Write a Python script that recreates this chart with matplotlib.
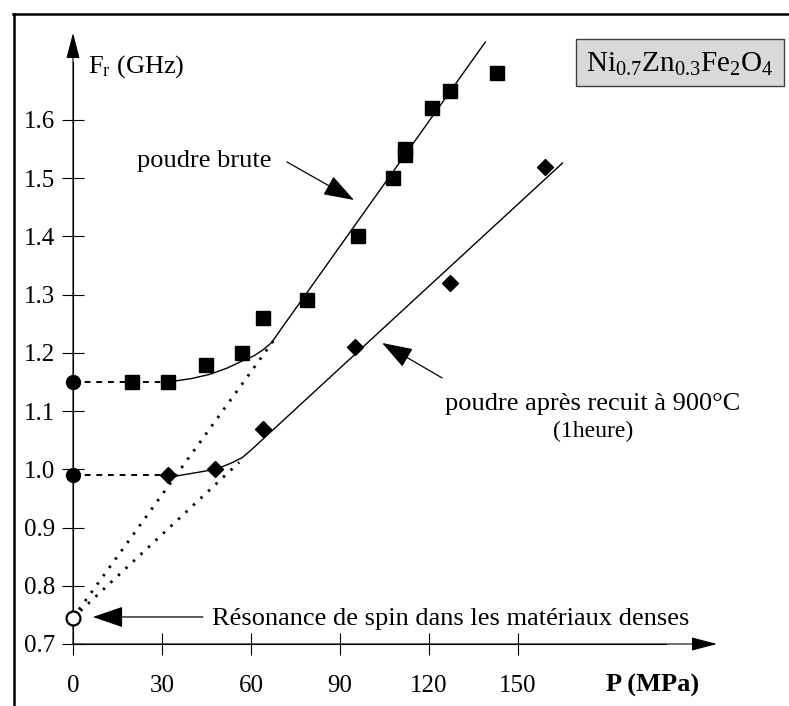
import matplotlib
matplotlib.use("Agg")
import matplotlib.pyplot as plt
from matplotlib.patches import Rectangle
from matplotlib.lines import Line2D

plt.rcParams['font.family'] = 'Liberation Serif'
plt.rcParams['mathtext.fontset'] = 'custom'
plt.rcParams['mathtext.rm'] = 'Liberation Serif'
plt.rcParams['mathtext.it'] = 'Liberation Serif:italic'
plt.rcParams['mathtext.bf'] = 'Liberation Serif:bold'

# ---------------------------
# data
# ---------------------------
# poudre brute (squares)
P_brute = [20, 32, 45, 57, 64, 79, 96, 108, 112, 112, 121, 127, 143]
F_brute = [1.15, 1.15, 1.18, 1.20, 1.26, 1.29, 1.40, 1.50, 1.54, 1.55, 1.62, 1.65, 1.68]

# poudre apres recuit a 900 C (diamonds)
P_recuit = [32, 48, 64, 95, 127, 159]
F_recuit = [0.99, 1.00, 1.07, 1.21, 1.32, 1.52]

# fitted curves (points picked along the drawn curves)
fit_brute_P = [32, 40, 46, 52, 57, 61, 64, 67, 70, 139]
fit_brute_F = [1.15, 1.156, 1.163, 1.174, 1.186, 1.195, 1.205, 1.218, 1.24, 1.734]
fit_recuit_P = [33, 40, 48, 53, 57, 60, 165]
fit_recuit_F = [0.987, 0.993, 1.0, 1.01, 1.02, 1.033, 1.526]

# extrapolation towards P = 0
F_zero = [1.15, 0.99]          # plateau values at P = 0
F_dense = 0.745                # spin resonance, dense material
plateau_end = 32
extra_end_P = [69, 56]
extra_end_F = [1.231, 1.012]

xticks = [0, 30, 60, 90, 120, 150]
yticks = [0.7, 0.8, 0.9, 1.0, 1.1, 1.2, 1.3, 1.4, 1.5, 1.6]

# ---------------------------
# figure
# ---------------------------
W, H = 789, 706
fig = plt.figure(figsize=(W / 100, H / 100), dpi=100)
ax = fig.add_axes([0, 0, 1, 1])
kx = (518 - 73) / 150.0
ky = (644 - 120) / 0.9
ax.set_xlim(-73 / kx, (W - 73) / kx)
ax.set_ylim(0.7 - (H - 644) / ky, 0.7 + 644 / ky)
ax.patch.set_alpha(0)

for s in ['top', 'right']:
    ax.spines[s].set_visible(False)
ax.spines['left'].set_position(('data', 0))
ax.spines['bottom'].set_position(('data', 0.7))
ax.spines['left'].set_bounds(0.7, 1.70)
ax.spines['bottom'].set_bounds(0, 200)
for s in ['left', 'bottom']:
    ax.spines[s].set_linewidth(0.8)

ax.set_xticks(xticks)
ax.set_xticklabels([str(v) for v in xticks])
ax.set_yticks(yticks)
ax.set_yticklabels([f'{v:.1f}' for v in yticks])
ax.tick_params(axis='both', direction='inout', length=16, width=0.8, labelsize=18)
ax.tick_params(axis='x', pad=14)
ax.tick_params(axis='y', pad=5)

# axis arrowheads (line drawn from the origin so there is no gap)
axis_arrow = dict(arrowstyle='-|>,head_length=1.6,head_width=0.42', mutation_scale=10,
                  color='k', lw=0.8, shrinkA=0, shrinkB=0)
ax.annotate('', xy=(0, 0.7 + 611 / ky), xytext=(0, 0.7), arrowprops=axis_arrow)
ax.annotate('', xy=((717 - 73) / kx, 0.7), xytext=(0, 0.7), arrowprops=axis_arrow)

# fitted curves
ax.plot(fit_brute_P, fit_brute_F, color='k', lw=1.0, zorder=3)
ax.plot(fit_recuit_P, fit_recuit_F, color='k', lw=1.0, zorder=3)

# dashed plateaus and dotted extrapolations
for f0 in F_zero:
    ax.plot([0, plateau_end], [f0, f0], color='k', lw=1.4, ls=(0, (3, 3)), zorder=3)
for pe, fe in zip(extra_end_P, extra_end_F):
    ax.plot([0, pe], [F_dense, fe], color='k', lw=2.0, ls=(0, (0.9, 2.8)), zorder=3)

# measured points
ax.plot(P_brute, F_brute, 's', color='k', ms=9.5, zorder=4)
ax.plot(P_recuit, F_recuit, 'D', color='k', ms=8, zorder=4)
ax.plot([0] * len(F_zero), F_zero, 'o', color='k', ms=10, zorder=5, clip_on=False)
ax.plot([0], [F_dense], 'o', mfc='white', mec='k', mew=1.6, ms=10, zorder=5, clip_on=False)

# labels
ax.text(5.06, 1.6808, r'F$_\mathrm{r}$ (GHz)', fontsize=19, ha='left', va='baseline')
ax.text(195.2, 0.6176, 'P (MPa)', fontsize=19, fontweight='bold', ha='center', va='baseline')

# annotations
note_arrow = dict(arrowstyle='-|>,head_length=1.6,head_width=0.55', mutation_scale=12,
                  color='k', lw=0.9, shrinkA=0, shrinkB=0)
ax.text(44.2, 1.5193, 'poudre brute', fontsize=19, ha='center', va='baseline')
ax.annotate('', xy=(94.7, 1.4626), xytext=(72.1, 1.528), arrowprops=note_arrow)

ax.text(175.3, 1.1019, 'poudre après recuit à 900°C', fontsize=19, ha='center', va='baseline')
ax.text(175.3, 1.0555, '(1heure)', fontsize=17, ha='center', va='baseline')
ax.annotate('', xy=(104.2, 1.217), xytext=(124.4, 1.157), arrowprops=note_arrow)

ax.text(46.9, 0.7326, 'Résonance de spin dans les matériaux denses', fontsize=19,
        ha='left', va='baseline')
ax.annotate('', xy=(6.7, 0.7464), xytext=(43.8, 0.7464), arrowprops=note_arrow)

# composition box
fig.patches.append(Rectangle((576 / W, 1 - 86 / H), (784 - 576) / W, (86 - 39) / H,
                             transform=fig.transFigure, facecolor='#d9d9d9',
                             edgecolor='#404040', lw=1.0))
fig.text(680 / W, 1 - 72 / H, r'$\mathrm{Ni_{0.7}Zn_{0.3}Fe_2O_4}$', fontsize=21,
         ha='center', va='baseline')

# outer frame (cropped at right and bottom)
fig.lines.append(Line2D([13.5 / W, 13.5 / W], [1 - 14 / H, 0], transform=fig.transFigure,
                        color='k', lw=1.8))
fig.lines.append(Line2D([13 / W, 1], [1 - 14 / H, 1 - 14 / H], transform=fig.transFigure,
                        color='k', lw=1.8))

fig.savefig('out.png', dpi=100, facecolor='white')
